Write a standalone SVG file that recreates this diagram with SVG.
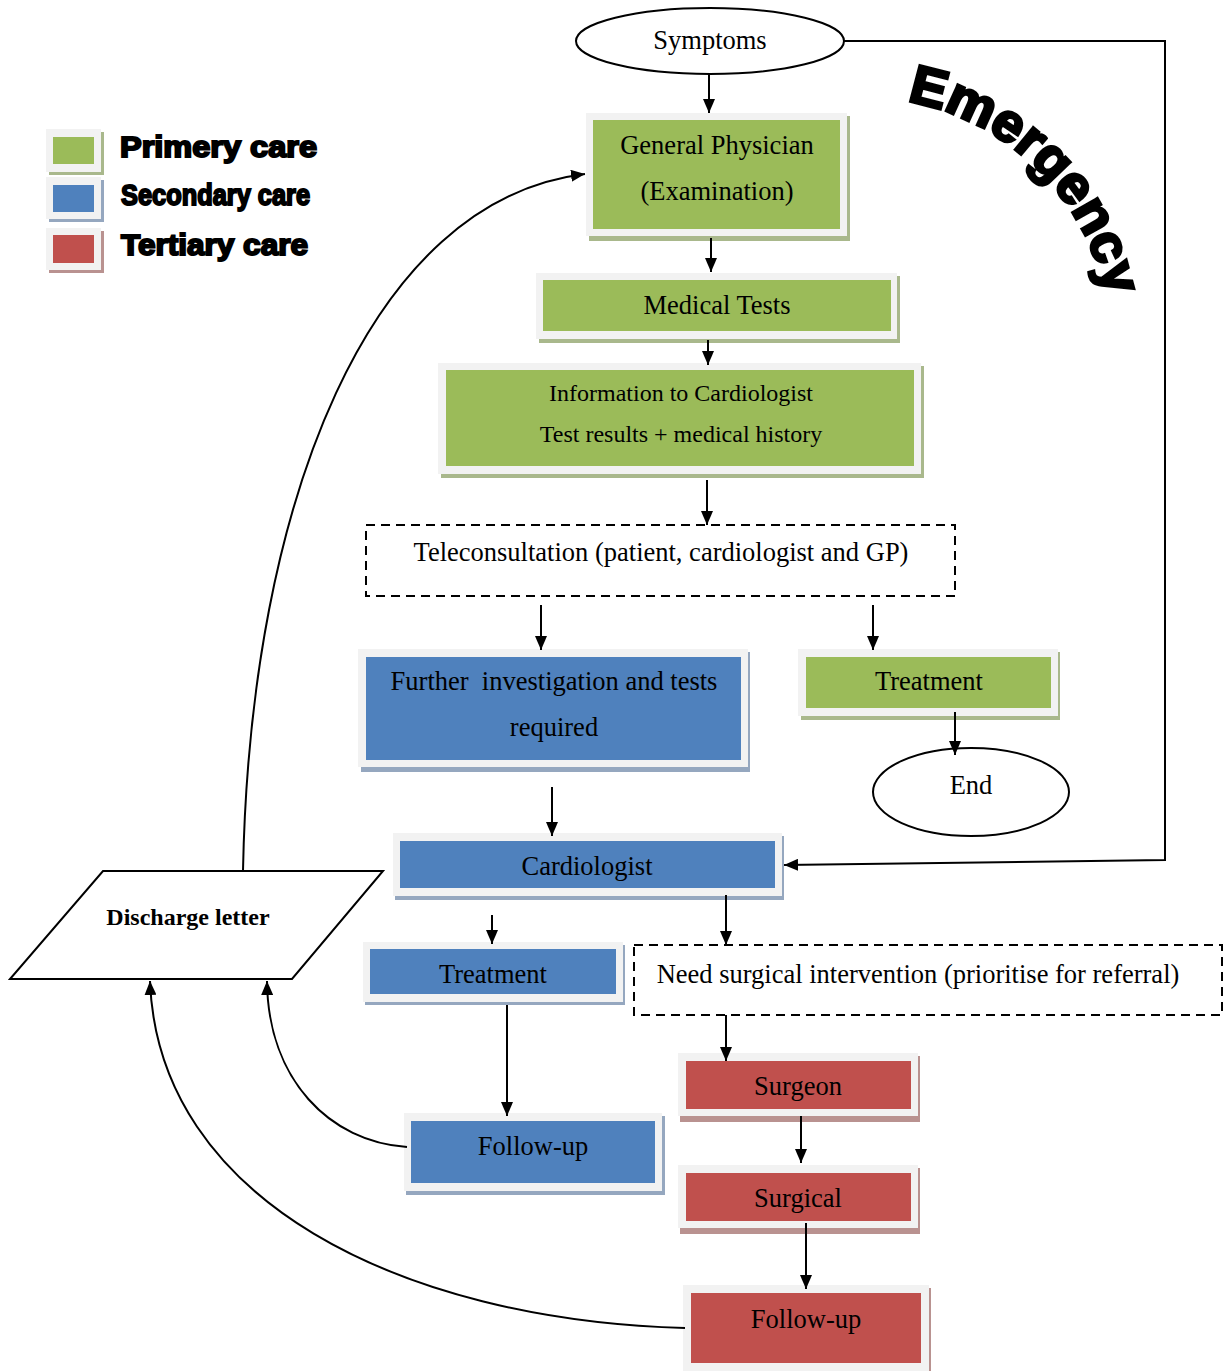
<svg xmlns="http://www.w3.org/2000/svg" width="1226" height="1371" viewBox="0 0 1226 1371">
  <defs>
    <marker id="arrow" markerUnits="userSpaceOnUse" markerWidth="14" markerHeight="12" refX="14" refY="6" orient="auto">
      <path d="M0,0 L14,6 L0,12 z" fill="#000"/>
    </marker>
    <path id="emergencyArc" d="M906.8,101.1 A249,249 0 0 1 1110,324.3"/>
    <style>
      .frame { fill: #f2f2f2; }
      .sh-g { fill: #a9b88c; }
      .sh-b { fill: #95a7bf; }
      .sh-r { fill: #b99290; }
      .green { fill: #9bbb59; }
      .blue { fill: #4f81bd; }
      .red { fill: #c0504d; }
      .lbl { font-family: "Liberation Serif", "Times New Roman", serif; font-size: 26.5px; fill: #000; text-anchor: middle; }
      .lbl24 { font-family: "Liberation Serif", "Times New Roman", serif; font-size: 24px; fill: #000; text-anchor: middle; }
      .outline { fill: #fff; stroke: #000; stroke-width: 2; }
      .dashed { fill: #fff; stroke: #000; stroke-width: 2; stroke-dasharray: 9 6; }
      .legend { font-family: "Liberation Sans", Arial, sans-serif; font-weight: bold; font-size: 30px; fill: #000; stroke: #000; stroke-width: 2; }
      .conn { fill: none; stroke: #000; stroke-width: 2; }
    </style>
  </defs>

  <!-- legend -->
  <g id="legend">
    <rect class="sh-g" x="49" y="132" width="55" height="43"/>
    <rect class="frame" x="46" y="129" width="55" height="43"/>
    <rect class="green" x="53" y="137" width="41" height="27"/>
    <text class="legend" x="120" y="157" textLength="197" lengthAdjust="spacingAndGlyphs">Primery care</text>

    <rect class="sh-b" x="49" y="180" width="55" height="42"/>
    <rect class="frame" x="46" y="177" width="55" height="42"/>
    <rect class="blue" x="53" y="185" width="41" height="27"/>
    <text class="legend" x="121" y="205" textLength="189" lengthAdjust="spacingAndGlyphs">Secondary care</text>

    <rect class="sh-r" x="49" y="231" width="55" height="42"/>
    <rect class="frame" x="46" y="228" width="55" height="42"/>
    <rect class="red" x="53" y="235" width="41" height="28"/>
    <text class="legend" x="121" y="255" textLength="187" lengthAdjust="spacingAndGlyphs">Tertiary care</text>
  </g>

  <!-- curved emergency label -->
  <g id="emergency-label">
    <text font-family="'Liberation Sans', Arial, sans-serif" font-weight="bold" font-size="54" fill="#000" stroke="#000" stroke-width="3"><textPath href="#emergencyArc" textLength="296" lengthAdjust="spacingAndGlyphs">Emergency</textPath></text>
  </g>

  <!-- primary care -->
  <g id="symptoms">
    <ellipse class="outline" cx="710" cy="41" rx="134" ry="33"/>
    <text class="lbl" x="710" y="49">Symptoms</text>
  </g>

  <g id="general-physician">
    <rect class="sh-g" x="589" y="116" width="261" height="125"/>
    <rect class="frame" x="586" y="113" width="261" height="123"/>
    <rect class="green" x="593" y="120" width="247" height="109"/>
    <text class="lbl" x="717" y="154">General Physician</text>
    <text class="lbl" x="717" y="200">(Examination)</text>
  </g>

  <g id="medical-tests">
    <rect class="sh-g" x="539" y="276" width="361" height="67"/>
    <rect class="frame" x="536" y="273" width="361" height="66"/>
    <rect class="green" x="543" y="280" width="348" height="51"/>
    <text class="lbl" x="717" y="314">Medical Tests</text>
  </g>

  <g id="information">
    <rect class="sh-g" x="441" y="366" width="483" height="112"/>
    <rect class="frame" x="438" y="363" width="483" height="111"/>
    <rect class="green" x="446" y="370" width="468" height="96"/>
    <text class="lbl24" x="681" y="401">Information to Cardiologist</text>
    <text class="lbl24" x="681" y="442">Test results + medical history</text>
  </g>

  <g id="teleconsultation">
    <rect class="dashed" x="366" y="525" width="589" height="71"/>
    <text class="lbl" x="661" y="561">Teleconsultation (patient, cardiologist and GP)</text>
  </g>

  <g id="treatment-primary">
    <rect class="sh-g" x="801" y="652" width="259" height="68"/>
    <rect class="frame" x="798" y="649" width="260" height="67"/>
    <rect class="green" x="806" y="657" width="245" height="51"/>
    <text class="lbl" x="929" y="690">Treatment</text>
  </g>

  <g id="end">
    <ellipse class="outline" cx="971" cy="792" rx="98" ry="44"/>
    <text class="lbl" x="971" y="794">End</text>
  </g>

  <!-- secondary care -->
  <g id="further-investigation">
    <rect class="sh-b" x="361" y="652" width="389" height="120"/>
    <rect class="frame" x="358" y="649" width="390" height="118"/>
    <rect class="blue" x="366" y="657" width="375" height="103"/>
    <text class="lbl" x="554" y="690" xml:space="preserve">Further  investigation and tests</text>
    <text class="lbl" x="554" y="736">required</text>
  </g>

  <g id="cardiologist">
    <rect class="sh-b" x="395" y="836" width="389" height="64"/>
    <rect class="frame" x="393" y="833" width="389" height="63"/>
    <rect class="blue" x="400" y="841" width="375" height="47"/>
    <text class="lbl" x="587" y="875">Cardiologist</text>
  </g>

  <g id="treatment-secondary">
    <rect class="sh-b" x="365" y="945" width="260" height="60"/>
    <rect class="frame" x="363" y="942" width="260" height="60"/>
    <rect class="blue" x="370" y="949" width="246" height="45"/>
    <text class="lbl" x="493" y="983">Treatment</text>
  </g>

  <g id="follow-up-secondary">
    <rect class="sh-b" x="406" y="1116" width="259" height="79"/>
    <rect class="frame" x="404" y="1113" width="258" height="78"/>
    <rect class="blue" x="411" y="1121" width="244" height="62"/>
    <text class="lbl" x="533" y="1155">Follow-up</text>
  </g>

  <g id="discharge-letter">
    <polygon class="outline" points="103,871 383,871 292,979 10,979"/>
    <text x="188" y="925" font-family="'Liberation Serif', 'Times New Roman', serif" font-weight="bold" font-size="24" text-anchor="middle" fill="#000">Discharge letter</text>
  </g>

  <g id="need-surgical">
    <rect class="dashed" x="634" y="945" width="588" height="70"/>
    <text class="lbl" x="918" y="983">Need surgical intervention (prioritise for referral)</text>
  </g>

  <!-- tertiary care -->
  <g id="surgeon">
    <rect class="sh-r" x="680" y="1056" width="240" height="66"/>
    <rect class="frame" x="678" y="1053" width="240" height="63"/>
    <rect class="red" x="686" y="1061" width="225" height="48"/>
    <text class="lbl" x="798" y="1095">Surgeon</text>
  </g>

  <g id="surgical">
    <rect class="sh-r" x="680" y="1168" width="240" height="66"/>
    <rect class="frame" x="678" y="1165" width="240" height="63"/>
    <rect class="red" x="686" y="1173" width="225" height="48"/>
    <text class="lbl" x="798" y="1207">Surgical</text>
  </g>

  <g id="follow-up-tertiary">
    <rect class="sh-r" x="686" y="1288" width="245" height="86"/>
    <rect class="frame" x="683" y="1285" width="246" height="86"/>
    <rect class="red" x="691" y="1293" width="230" height="70"/>
    <text class="lbl" x="806" y="1328">Follow-up</text>
  </g>

  <!-- connectors, drawn over the box frames -->
  <g id="connectors" class="conn">
    <path marker-end="url(#arrow)" d="M709,74 V113"/>
    <path marker-end="url(#arrow)" d="M711,238 V272"/>
    <path marker-end="url(#arrow)" d="M708,340 V365"/>
    <path marker-end="url(#arrow)" d="M707,480 V525"/>
    <path marker-end="url(#arrow)" d="M541,605 V650"/>
    <path marker-end="url(#arrow)" d="M873,605 V650"/>
    <path marker-end="url(#arrow)" d="M955,712 V755"/>
    <path marker-end="url(#arrow)" d="M552,787 V836"/>
    <path marker-end="url(#arrow)" d="M492,915 V944"/>
    <path marker-end="url(#arrow)" d="M726,895 V945"/>
    <path marker-end="url(#arrow)" d="M507,1005 V1116"/>
    <path marker-end="url(#arrow)" d="M726,1015 V1061"/>
    <path marker-end="url(#arrow)" d="M801,1116 V1163"/>
    <path marker-end="url(#arrow)" d="M806,1223 V1289"/>
    <path marker-end="url(#arrow)" d="M844,41 H1165 V860 L784,865"/>
    <path marker-end="url(#arrow)" d="M243,871 C250,500 370,200 585,174"/>
    <path marker-end="url(#arrow)" d="M407,1147 C330,1142 268,1080 267,981"/>
    <path marker-end="url(#arrow)" d="M685,1328 C400,1320 158,1200 150,981"/>
  </g>
</svg>
